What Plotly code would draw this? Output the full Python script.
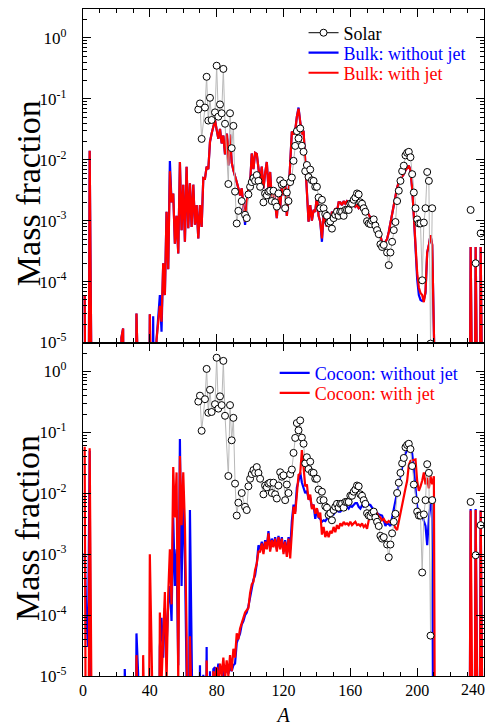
import plotly.graph_objects as go
from plotly.subplots import make_subplots

# ---------------- data ----------------
A = list(range(1, 241))  # mass number grid for the model curves (0 = not produced)

bulk_without_jet = [
    6e-5, 0, 0, 0.014, 0, 0, 0, 0, 0, 0,
    0, 0, 0, 0, 0, 0, 0, 0, 0, 0,
    0, 0, 1.2e-5, 1.7e-5, 0, 0, 0, 0, 0, 0,
    0, 3e-5, 0, 0, 0, 0, 0, 0, 0, 2.9e-5,
    0, 2.7e-5, 0, 1.1e-5, 2.5e-5, 6e-5, 1.5e-5, 2e-4, 6e-5, 1.4e-3,
    1.6e-4, 9.5e-3, 2e-3, 2.8e-3, 4.2e-4, 1.2e-3, 2.9e-4, 9.2e-3, 7e-4, 3.9e-3,
    4.5e-4, 7.7e-3, 7.5e-4, 4.1e-3, 7.9e-4, 3.9e-3, 8.6e-4, 1.8e-3, 5.1e-4, 1.8e-3,
    7.9e-4, 5e-3, 4.9e-3, 7.7e-3, 7e-3, 0.0197, 0.027, 0.035, 0.045, 0.031,
    0.022, 0.032, 0.0185, 0.025, 0.0122, 0.027, 8.1e-3, 0.026, 9e-3, 6.7e-3,
    5.6e-3, 4.3e-3, 3.4e-3, 2.6e-3, 3.4e-3, 1.6e-3, 8.5e-4, 2e-3, 3.4e-3, 3.9e-3,
    0.0127, 7e-3, 0.013, 0.0125, 7.7e-3, 4.3e-3, 7.7e-3, 3.4e-3, 6e-3, 9.2e-3,
    3.4e-3, 6.3e-3, 2.3e-3, 3.4e-3, 1.9e-3, 1.1e-3, 3e-3, 1.6e-3, 3.9e-3, 2.6e-3,
    4.3e-3, 1.2e-3, 2.6e-3, 8.1e-3, 0.029, 0.026, 0.03, 0.051, 0.072, 0.042,
    0.026, 0.03, 8.1e-3, 2e-3, 9.6e-4, 1.8e-3, 1e-3, 1.5e-3, 1.4e-3, 2.6e-3,
    1.2e-3, 9.6e-4, 4.5e-4, 1.2e-3, 9.6e-4, 8e-4, 1.1e-3, 9.6e-4, 1.4e-3, 1.2e-3,
    1.6e-3, 1.4e-3, 2e-3, 2e-3, 1.8e-3, 2.1e-3, 1.9e-3, 2.1e-3, 2e-3, 1.9e-3,
    2e-3, 1.9e-3, 1.7e-3, 1.8e-3, 1.6e-3, 1.7e-3, 1.6e-3, 1.5e-3, 1.6e-3, 1.4e-3,
    1.3e-3, 1.1e-3, 1e-3, 9e-4, 8.5e-4, 7.5e-4, 6.5e-4, 5.5e-4, 4.5e-4, 4e-4,
    4.5e-4, 5e-4, 6.5e-4, 9e-4, 1.3e-3, 2e-3, 2.6e-3, 3.5e-3, 4.3e-3, 5e-3,
    5.3e-3, 5.8e-3, 6.7e-3, 7.3e-3, 8e-3, 6.7e-3, 3.4e-3, 1.2e-3, 2.8e-4, 1.1e-4,
    6e-5, 5e-5, 4.8e-5, 5e-5, 6.5e-5, 3e-4, 4e-4, 5.8e-4, 4e-4, 0,
    0, 0, 0, 0, 0, 0, 0, 0, 0, 0,
    0, 0, 0, 0, 0, 0, 0, 0, 0, 0,
    0, 3.7e-4, 0, 0, 3.7e-4, 0, 0, 3.7e-4, 0, 0,
]

bulk_with_jet = [
    6e-5, 0, 0, 0.014, 0, 0, 0, 0, 0, 0,
    0, 0, 0, 0, 0, 0, 0, 0, 0, 0,
    0, 0, 1.2e-5, 1.7e-5, 0, 0, 0, 0, 0, 0,
    0, 3e-5, 0, 0, 0, 0, 0, 0, 0, 2.9e-5,
    0, 0, 0, 1.1e-5, 2.5e-5, 4e-5, 2.2e-5, 2e-4, 6e-5, 1.4e-3,
    1.6e-4, 6.5e-3, 2e-3, 2.8e-3, 4.2e-4, 1.2e-3, 2.9e-4, 9.2e-3, 7e-4, 3.9e-3,
    4.5e-4, 7.7e-3, 7.5e-4, 4.1e-3, 7.9e-4, 3.9e-3, 8.6e-4, 1.8e-3, 5.1e-4, 1.8e-3,
    7.9e-4, 5e-3, 4.9e-3, 7.7e-3, 7e-3, 0.0197, 0.027, 0.035, 0.045, 0.031,
    0.022, 0.032, 0.0185, 0.025, 0.0122, 0.027, 8.1e-3, 0.026, 9e-3, 6.7e-3,
    5.6e-3, 4.3e-3, 3.4e-3, 2.6e-3, 3.4e-3, 1.6e-3, 9.6e-4, 2e-3, 3.4e-3, 3.9e-3,
    0.0127, 7e-3, 0.013, 0.0125, 7.7e-3, 4.3e-3, 7.7e-3, 3.4e-3, 6e-3, 9.2e-3,
    3.4e-3, 6.3e-3, 2.3e-3, 3.4e-3, 1.9e-3, 1.1e-3, 3e-3, 1.6e-3, 3.9e-3, 2.6e-3,
    4.3e-3, 1.2e-3, 2.6e-3, 8.1e-3, 0.029, 0.026, 0.03, 0.051, 0.069, 0.042,
    0.026, 0.03, 8.1e-3, 2e-3, 9.6e-4, 1.8e-3, 1e-3, 1.5e-3, 1.4e-3, 2.6e-3,
    1.2e-3, 9.6e-4, 5.1e-4, 1.2e-3, 9.6e-4, 8e-4, 1.1e-3, 9.6e-4, 1.4e-3, 1.2e-3,
    1.6e-3, 1.4e-3, 2e-3, 2e-3, 1.8e-3, 2.1e-3, 1.9e-3, 2.1e-3, 2e-3, 1.9e-3,
    2e-3, 1.9e-3, 1.7e-3, 1.8e-3, 1.6e-3, 1.7e-3, 1.6e-3, 1.5e-3, 1.6e-3, 1.4e-3,
    1.3e-3, 1.1e-3, 1e-3, 9e-4, 8.5e-4, 7.5e-4, 6.5e-4, 5.5e-4, 4.5e-4, 4e-4,
    4.5e-4, 5e-4, 6.5e-4, 9e-4, 1.3e-3, 2e-3, 2.6e-3, 3.5e-3, 4.3e-3, 5e-3,
    5.3e-3, 5.8e-3, 6.7e-3, 7.3e-3, 8e-3, 6.7e-3, 3.4e-3, 1.2e-3, 3.5e-4, 1.4e-4,
    8e-5, 6.5e-5, 6e-5, 4.6e-5, 7e-5, 3e-4, 4e-4, 5.8e-4, 4e-4, 0,
    0, 0, 0, 0, 0, 0, 0, 0, 0, 0,
    0, 0, 0, 0, 0, 0, 0, 0, 0, 0,
    0, 3.7e-4, 0, 0, 3.7e-4, 0, 0, 3.7e-4, 0, 0,
]

cocoon_without_jet = [
    1.05e-3, 1e-4, 3e-5, 0.05, 0, 0, 0, 0, 0, 0,
    0, 0, 0, 0, 0, 0, 0, 0, 0, 0,
    0, 0, 0, 0, 1.3e-5, 0, 0, 0, 0, 0,
    0, 5e-5, 1.1e-5, 0, 0, 0, 0, 0, 0, 0,
    0, 0, 0, 0, 0, 3e-5, 9e-5, 2e-5, 1.3e-4, 3e-5,
    1.5e-4, 3e-4, 8e-5, 4e-3, 3e-4, 1.2e-3, 1.5e-5, 0.078, 3e-4, 0.011,
    8e-4, 1e-5, 0, 5.3e-3, 0, 0, 0, 0, 0, 1.5e-5,
    0, 1.05e-5, 0, 3e-5, 0, 1.2e-5, 0, 1.3e-5, 1.4e-5, 9e-6,
    1.6e-5, 1.1e-5, 1.3e-5, 1e-5, 1.5e-5, 1.2e-5, 1.1e-5, 1.4e-5, 1.2e-5, 1.5e-5,
    1.6e-5, 3.5e-5, 4.3e-5, 5e-5, 7e-5, 8e-5, 1e-4, 1.1e-4, 1.4e-4, 2e-4,
    2.8e-4, 3.8e-4, 4.5e-4, 7e-4, 1.4e-3, 1.2e-3, 1.6e-3, 1.1e-3, 1.7e-3, 1.3e-3,
    2.4e-3, 1.2e-3, 1.8e-3, 1.4e-3, 1.9e-3, 1.2e-3, 2e-3, 1.3e-3, 1.9e-3, 1.1e-3,
    1.7e-3, 1e-3, 1.9e-3, 1.2e-3, 3.5e-3, 6.5e-3, 5e-3, 0.0125, 0.016, 0.022,
    0.015, 0.012, 0.01, 0.011, 8e-3, 8.5e-3, 5.8e-3, 6.5e-3, 3.8e-3, 5.5e-3,
    4e-3, 3.8e-3, 3.4e-3, 3.6e-3, 3.5e-3, 3.8e-3, 4e-3, 3.9e-3, 4.3e-3, 4.5e-3,
    5e-3, 5.2e-3, 5e-3, 5e-3, 5.3e-3, 5.8e-3, 5.5e-3, 6e-3, 5.6e-3, 6.2e-3,
    6e-3, 6.4e-3, 6.9e-3, 6.9e-3, 6e-3, 5.6e-3, 6.3e-3, 6e-3, 6.5e-3, 7.2e-3,
    6.5e-3, 6.4e-3, 5.8e-3, 5.2e-3, 5e-3, 4.7e-3, 4.5e-3, 4.4e-3, 4.3e-3, 3.6e-3,
    2.9e-3, 3.3e-3, 3.1e-3, 2.9e-3, 4e-3, 5.5e-3, 7.5e-3, 0.01, 0.014, 0.02,
    0.028, 0.036, 0.045, 0.05, 0.058, 0.066, 0.045, 0.025, 0.0128, 6e-3,
    5e-3, 4.7e-3, 4.3e-3, 3.5e-3, 2.9e-3, 1.4e-3, 3.8e-3, 6.4e-3, 6.9e-3, 0,
    0, 0, 0, 0, 0, 0, 0, 0, 0, 0,
    0, 0, 0, 0, 0, 0, 0, 0, 0, 0,
    0, 5.5e-3, 0, 0, 5.5e-3, 0, 0, 5.2e-3, 0, 0,
]

cocoon_with_jet = [
    0.058, 0, 0, 0.055, 0, 0, 0, 0, 0, 0,
    0, 0, 0, 0, 0, 0, 0, 0, 0, 0,
    0, 0, 0, 0, 0, 0, 0, 0, 0, 0,
    0, 2.2e-5, 0, 0, 0, 2.2e-5, 0, 0, 0, 1.0e-3,
    0, 0, 0, 0, 0, 1.1e-4, 8e-6, 3.7e-5, 2.4e-4, 8e-6,
    2.2e-4, 1.2e-3, 1.5e-4, 0.027, 4e-3, 0.022, 8e-6, 0.041, 3e-3, 0.022,
    3e-3, 5e-5, 0, 4.5e-5, 0, 0, 0, 0, 0, 0,
    0, 0, 0, 1.8e-5, 0, 0, 0, 1.2e-5, 8e-6, 1.4e-5,
    8e-6, 1.6e-5, 1e-5, 2e-5, 9e-6, 1.8e-5, 1e-5, 2.2e-5, 1.2e-5, 2.8e-5,
    2e-5, 5e-5, 4e-5, 6e-5, 7.3e-5, 9e-5, 1.1e-4, 1.2e-4, 1.3e-4, 2.3e-4,
    3.2e-4, 3.5e-4, 5.5e-4, 7e-4, 1.1e-3, 1.1e-3, 1.5e-3, 1e-3, 1.6e-3, 1.2e-3,
    2.2e-3, 1.1e-3, 1.7e-3, 1.3e-3, 1.8e-3, 1.1e-3, 1.9e-3, 1.2e-3, 1.8e-3, 1e-3,
    1.6e-3, 9e-4, 1.8e-3, 8.5e-4, 2.8e-3, 6e-3, 4.6e-3, 0.0113, 0.02, 0.021,
    0.051, 0.027, 0.013, 0.014, 7.8e-3, 9.5e-3, 5.5e-3, 6.5e-3, 4.6e-3, 5.7e-3,
    4e-3, 4.8e-3, 2.1e-3, 2.8e-3, 1.9e-3, 2.4e-3, 1.9e-3, 2.4e-3, 2.2e-3, 2.8e-3,
    2.3e-3, 3e-3, 2.6e-3, 3.2e-3, 2.9e-3, 3.4e-3, 3.1e-3, 3.2e-3, 3e-3, 3.4e-3,
    3e-3, 3.2e-3, 3.4e-3, 3e-3, 3.1e-3, 2.9e-3, 3.2e-3, 2.8e-3, 3e-3, 2.6e-3,
    3.6e-3, 4e-3, 4.5e-3, 4.8e-3, 4.5e-3, 4.7e-3, 4.2e-3, 4e-3, 3.6e-3, 3.8e-3,
    3.4e-3, 3.3e-3, 3.5e-3, 3.3e-3, 3.5e-3, 3e-3, 2.7e-3, 2.5e-3, 3.5e-3, 4.7e-3,
    6.5e-3, 8.8e-3, 0.012, 0.016, 0.029, 0.034, 0.035, 0.036, 0.036, 0.016,
    0.011, 0.013, 0.016, 0.022, 0.014, 0.018, 0.012, 0.019, 0.014, 0.019,
    0, 0, 0, 0, 0, 0, 0, 0, 0, 0,
    0, 0, 0, 0, 0, 0, 0, 0, 0, 0,
    0, 5.2e-3, 0, 0, 5.3e-3, 0, 0, 5.2e-3, 0, 0,
]

# Solar r-process pattern (None = break in the connecting line)
solar_A = [
    69, 70, 71, 73, 74, 75, 76, 77, 79, 80, 81, 82, 83, 84, 85, 87, 88, 89, 90, 91,
    92, 93, 95, 97, 98, 99, 100, 101, 102, 103, 104, 105, 106, 108, 109, 110, 111, 112, 113, 114,
    115, 116, 117, 118, 119, 120, 121, 122, 123, 124, 125, 126, 127, 128, 129, 130, 131, 132, 133, 134,
    135, 136, 137, 138, 139, 140, 141, 142, 143, 144, 145, 146, 147, 148, 149, 150, 151, 152, 153, 154,
    155, 156, 157, 158, 159, 160, 161, 162, 163, 164, 165, 166, 167, 168, 169, 170, 171, 172, 173, 174,
    175, 176, 177, 178, 179, 180, 182, 183, 184, 185, 186, 187, 188, 189, 190, 191, 192, 193, 194, 195,
    196, 197, 198, 199, 200, 201, 202, 203, 204, 205, 206, 207, 208, 209, 210, 232, 233, 235, 236, 238,
]

solar_top = [
    0.067, 0.084, 0.022, 0.072, 0.23, 0.044, 0.104, 0.045, 0.06, 0.35, 0.051, 0.081, 0.058, 0.31, 0.039, 0.004, 0.058, 0.0155, 0.036, 0.003,
    0.0009, 0.00145, 0.0021, 0.00125, 0.0011, 0.0027, 0.0036, 0.0043, 0.005, 0.0045, 0.0056, 0.0045, 0.0036, 0.002, 0.0028, 0.0026, 0.003, 0.0031, 0.0021, 0.0031,
    0.002, 0.0017, 0.0028, 0.0046, 0.0039, 0.0041, 0.0016, 0.0029, 0.0021, 0.0043, 0.0051, 0.0096, 0.0169, 0.0295, 0.0224, 0.0327, 0.017, 0.0135, 0.0065, 0.0082,
    0.0052, 0.0069, 0.0046, 0.0045, 0.0036, 0.0036, 0.0024, 0.0016, 0.0022, 0.0016, 0.00128, 0.0012, 0.00092, 0.00097, 0.00074, 0.0011, 0.00125, 0.0014, 0.0012, 0.0014,
    0.0014, 0.0012, 0.0015, 0.0015, 0.0015, 0.0019, 0.0019, 0.0022, 0.0024, 0.0028, 0.0027, 0.002, 0.0019, 0.0016, 0.0014, 0.00098, 0.0009, 0.00088, 0.001, 0.00105,
    0.00083, 0.0007, 0.0006, 0.00041, 0.00037, 0.0004, 0.0003, 0.000186, 0.0003, 0.00045, 0.0007, 0.00095, 0.0021, 0.0031, 0.0045, 0.0065, 0.008, 0.0118, 0.013, 0.0135,
    0.011, 0.0058, 0.0029, 0.0016, 0.00105, 0.0009, 0.0009, 0.000105, 0.00093, 0.0016, 0.0063, 0.0045, 0.0000096, 0.0016, None, 0.0015, None, 0.0002, None, 0.00062,
]

solar_bottom = [
    0.32, 0.40, 0.106, 0.35, 1.1, 0.21, 0.50, 0.216, 0.29, 1.68, 0.245, 0.39, 0.28, 1.49, 0.187, 0.0192, 0.28, 0.074, 0.173, 0.0144,
    0.0043, 0.007, 0.0101, 0.006, 0.0053, 0.013, 0.0173, 0.0206, 0.024, 0.0216, 0.0269, 0.0216, 0.0173, 0.0096, 0.0134, 0.0125, 0.0144, 0.0149, 0.0101, 0.0149,
    0.0096, 0.0082, 0.0134, 0.0221, 0.0187, 0.0197, 0.0077, 0.0139, 0.0101, 0.0206, 0.0245, 0.046, 0.081, 0.142, 0.108, 0.157, 0.082, 0.065, 0.031, 0.039,
    0.025, 0.033, 0.022, 0.0216, 0.0173, 0.0173, 0.0115, 0.0077, 0.0106, 0.0077, 0.0061, 0.0058, 0.0044, 0.0047, 0.0036, 0.0053, 0.006, 0.0067, 0.0058, 0.0067,
    0.0067, 0.0058, 0.0072, 0.0072, 0.0072, 0.0091, 0.0091, 0.0106, 0.0115, 0.0134, 0.013, 0.0096, 0.0091, 0.0077, 0.0067, 0.0047, 0.0043, 0.0042, 0.0048, 0.005,
    0.004, 0.0034, 0.0029, 0.002, 0.0018, 0.0019, 0.00144, 0.00089, 0.00144, 0.0022, 0.0034, 0.0046, 0.0101, 0.0149, 0.0216, 0.031, 0.038, 0.057, 0.062, 0.065,
    0.053, 0.028, 0.0139, 0.0077, 0.005, 0.0043, 0.0043, 0.0005, 0.0045, 0.0077, 0.030, 0.0216, 0.000046, 0.0077, None, 0.0072, None, 0.00096, None, 0.003,
]

# axis ticks and labels (the last x label sits at the right frame edge)
x_ticks = [0, 40, 80, 120, 160, 200, 240]
x_tick_labels = ["0", "40", "80", "120", "160", "200", ""]
x_last_label = "240"
decades = [-5, -4, -3, -2, -1, 0]
y_tick_labels = ["10<sup>%d</sup>" % d for d in decades]

# ---------------- figure ----------------
FONT = "Liberation Serif, Times New Roman, serif"
BLUE = "#0000ff"
RED = "#ff0000"
GRAY = "#b8b8b8"
FLOOR = 1e-9  # entries below the plotted range (not produced) are drawn off-scale


def off_scale(vals):
    return [v if v > 0 else FLOOR for v in vals]


fig = make_subplots(rows=2, cols=1, shared_xaxes=True, vertical_spacing=0)

# (row, solar legend, blue legend, red legend, blue data, red data, solar data, names)
panels = [
    (1, "legend", "legend2", "legend3", bulk_without_jet, bulk_with_jet, solar_top,
     "Bulk: without jet", "Bulk: with jet"),
    (2, None, "legend4", "legend5", cocoon_without_jet, cocoon_with_jet, solar_bottom,
     "Cocoon: without jet", "Cocoon: with jet"),
]

for row, leg_s, leg_b, leg_r, blue_vals, red_vals, solar_vals, blue_name, red_name in panels:
    fig.add_trace(go.Scatter(
        x=A, y=off_scale(blue_vals), mode="lines",
        line=dict(color=BLUE, width=2.2),
        name="<span style='color:%s'>%s</span>" % (BLUE, blue_name),
        legend=leg_b,
    ), row=row, col=1)
    fig.add_trace(go.Scatter(
        x=A, y=off_scale(red_vals), mode="lines",
        line=dict(color=RED, width=2.2),
        name="<span style='color:%s'>%s</span>" % (RED, red_name),
        legend=leg_r,
    ), row=row, col=1)
    fig.add_trace(go.Scatter(
        x=solar_A, y=solar_vals, mode="lines+markers",
        line=dict(color=GRAY, width=1),
        marker=dict(symbol="circle", size=7, color="white",
                    line=dict(color="black", width=1)),
        showlegend=False,
    ), row=row, col=1)
    if leg_s:
        # legend entry for the solar pattern (black key, as in the original)
        fig.add_trace(go.Scatter(
            x=[None], y=[None], mode="lines+markers",
            line=dict(color="black", width=1),
            marker=dict(symbol="circle", size=7, color="white",
                        line=dict(color="black", width=1)),
            name="Solar", legend=leg_s,
        ), row=row, col=1)

axis_common = dict(
    showline=True, linecolor="black", linewidth=1.3, mirror="allticks",
    ticks="inside", tickcolor="black", tickwidth=1,
    showgrid=False, zeroline=False, automargin=False,
)

for r in (1, 2):
    fig.update_xaxes(
        range=[0, 240], tickmode="array", tickvals=x_ticks, ticktext=x_tick_labels,
        ticklen=8,
        minor=dict(ticks="inside", dtick=10, tick0=0, ticklen=4, tickcolor="black"),
        tickfont=dict(family=FONT, size=16, color="black"),
        row=r, col=1, **axis_common)
    fig.update_yaxes(
        type="log", range=[-5, 0.475],
        tickmode="array", tickvals=[10.0 ** d for d in decades], ticktext=y_tick_labels,
        ticklen=8,
        minor=dict(ticks="inside", ticklen=4, tickcolor="black",
                   tickmode="array",
                   tickvals=[k * 10.0 ** d for d in range(-5, 1) for k in range(2, 10)]),
        tickfont=dict(family=FONT, size=17, color="black"),
        ticklabelstandoff=12,
        row=r, col=1, **axis_common)

fig.update_xaxes(showticklabels=False, row=1, col=1)
fig.update_xaxes(title=dict(text="<i>A</i>", font=dict(family=FONT, size=20, color="black"),
                            standoff=12), row=2, col=1)

# last x tick label, kept inside the visible page
fig.add_annotation(
    text=x_last_label, showarrow=False,
    xref="x2", yref="paper", x=x_ticks[-1], y=0,
    xanchor="right", yanchor="top", xshift=3, yshift=-3,
    font=dict(family=FONT, size=16, color="black"),
)

# y-axis titles of both panels
for ypos in (0.724, 0.222):
    fig.add_annotation(
        text="Mass fraction", textangle=-90, showarrow=False,
        xref="paper", yref="paper", x=-0.137, y=ypos,
        xanchor="center", yanchor="middle", borderpad=0,
        font=dict(family=FONT, size=34, color="black"),
    )

legend_common = dict(
    bgcolor="rgba(0,0,0,0)", borderwidth=0,
    font=dict(family=FONT, size=18, color="black"),
    xanchor="left", yanchor="middle", itemwidth=30,
)

# the page body adds an 8 px offset at the top-left; size and margins account for it
fig.update_layout(
    width=488, height=718,
    margin=dict(l=75, r=11.7, t=1, b=50),
    paper_bgcolor="white", plot_bgcolor="white",
    font=dict(family=FONT, color="black"),
    legend=dict(x=0.55, y=0.964, **legend_common),
    legend2=dict(x=0.55, y=0.934, **legend_common),
    legend3=dict(x=0.55, y=0.904, **legend_common),
    legend4=dict(x=0.478, y=0.454, **legend_common),
    legend5=dict(x=0.478, y=0.424, **legend_common),
    showlegend=True,
)

fig.write_html("out.html")
